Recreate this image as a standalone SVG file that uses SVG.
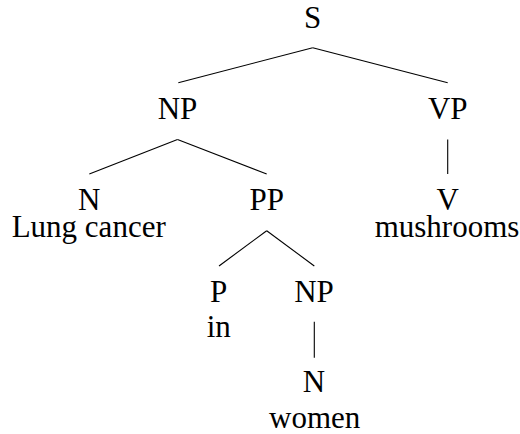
<svg xmlns="http://www.w3.org/2000/svg" width="520" height="434" viewBox="0 0 520 434">
<style>
text{font-family:"Liberation Serif","DejaVu Serif",serif;font-size:31px;fill:#000;text-anchor:middle}
.e line{stroke:#000;stroke-width:1.1}
</style>
<rect width="520" height="434" fill="#fff"/>
<g class="e" id="edges">
<line x1="312.7" y1="47.7" x2="178.3" y2="82.7"/>
<line x1="312.7" y1="47.7" x2="447.7" y2="82.7"/>
<line x1="177.5" y1="139.5" x2="89.3" y2="174"/>
<line x1="177.5" y1="139.5" x2="266.7" y2="174"/>
<line x1="447.7" y1="139.5" x2="447.7" y2="174"/>
<line x1="266.7" y1="230.7" x2="219" y2="266"/>
<line x1="266.7" y1="230.7" x2="314.3" y2="266"/>
<line x1="314.3" y1="321.7" x2="314.3" y2="357.7"/>
</g>
<g id="S"><text x="312.7" y="28">S</text></g>
<g id="NP1"><text x="177.5" y="119.3">NP</text></g>
<g id="VP"><text x="447.7" y="119.3">VP</text></g>
<g id="N1"><text><tspan x="89.3" y="210">N</tspan><tspan x="88.7" y="237.3">Lung cancer</tspan></text></g>
<g id="PP"><text x="266.7" y="210">PP</text></g>
<g id="V"><text><tspan x="447.7" y="210">V</tspan><tspan x="447" y="237.3">mushrooms</tspan></text></g>
<g id="P"><text><tspan x="218.5" y="302.3">P</tspan><tspan x="218.7" y="337.3">in</tspan></text></g>
<g id="NP2"><text x="314" y="302.3">NP</text></g>
<g id="N2"><text><tspan x="314" y="392.3">N</tspan><tspan x="314.7" y="428">women</tspan></text></g>
</svg>
